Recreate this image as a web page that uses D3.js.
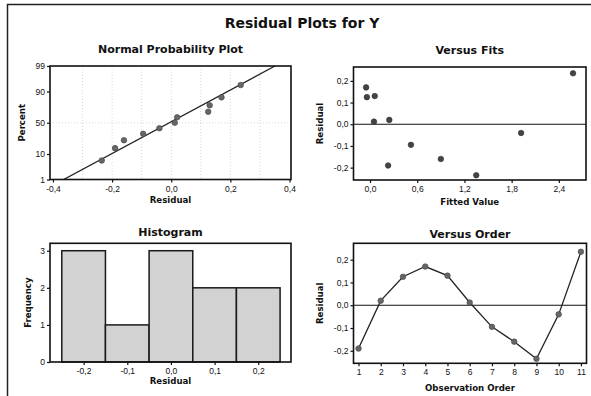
<!DOCTYPE html>
<html lang="en">
<head>
<meta charset="UTF-8">
<title>Residual Plots for Y</title>
<script src="https://d3js.org/d3.v7.min.js"></script>
<style>
    body { margin: 0; background: #fff; }
    svg { display: block; font-family: "DejaVu Sans", sans-serif; }
    .tick text { font-size: 8.5px; fill: #111; }
    .tick line, .domain { stroke: #111; }
    .title { font-weight: bold; font-size: 11px; text-anchor: middle; fill: #111; }
    .label { font-weight: bold; font-size: 8.6px; text-anchor: middle; fill: #111; }
</style>
</head>
<body>
<svg width="591" height="396"></svg>
<script>
// residuals by observation order, and their fitted values
const observation = [1, 2, 3, 4, 5, 6, 7, 8, 9, 10, 11];
const residuals = [-0.19, 0.02, 0.125, 0.17, 0.13, 0.012, -0.095, -0.16, -0.235, -0.04, 0.235];
const fitted = [0.23, 0.245, -0.04, -0.05, 0.06, 0.05, 0.52, 0.90, 1.35, 1.92, 2.58];

// normal probability plot
const nppPercent = [6.1, 14.9, 23.7, 32.5, 41.2, 50, 58.8, 67.5, 76.3, 85.1, 93.9];
const fitLineResidual = [-0.364, 0.351];
const fitLinePercent = [1, 99];
const percentTicks = [1, 10, 50, 90, 99];

// histogram
const binCenters = [-0.2, -0.1, 0.0, 0.1, 0.2];
const binFreq = [3, 1, 3, 2, 2];
const binWidth = 0.1;

const fmt = d3.formatLocale({decimal: ",", thousands: ".", grouping: [3], currency: ["", ""], minus: "-"}).format(".1f");

// inverse normal cdf (Acklam) for the probability axis
function probit(p) {
    const a = [-39.69683028665376, 220.9460984245205, -275.9285104469687, 138.3577518672690, -30.66479806614716, 2.506628277459239];
    const b = [-54.47609879822406, 161.5858368580409, -155.6989798598866, 66.80131188771972, -13.28068155288572];
    const c = [-0.007784894002430293, -0.3223964580411365, -2.400758277161838, -2.549732539343734, 4.374664141464968, 2.938163982698783];
    const d = [0.007784695709041462, 0.3224671290700398, 2.445134137142996, 3.754408661907416];
    const pl = 0.02425;
    let q, r;
    if (p < pl) {
        q = Math.sqrt(-2 * Math.log(p));
        return (((((c[0]*q+c[1])*q+c[2])*q+c[3])*q+c[4])*q+c[5]) / ((((d[0]*q+d[1])*q+d[2])*q+d[3])*q+1);
    } else if (p <= 1 - pl) {
        q = p - 0.5; r = q * q;
        return (((((a[0]*r+a[1])*r+a[2])*r+a[3])*r+a[4])*r+a[5])*q / (((((b[0]*r+b[1])*r+b[2])*r+b[3])*r+b[4])*r+1);
    }
    q = Math.sqrt(-2 * Math.log(1 - p));
    return -(((((c[0]*q+c[1])*q+c[2])*q+c[3])*q+c[4])*q+c[5]) / ((((d[0]*q+d[1])*q+d[2])*q+d[3])*q+1);
}

const svg = d3.select("svg");

// scanned page frame
svg.append("path")
    .attr("d", "M7.5,396V4.5H591")
    .attr("fill", "none").attr("stroke", "#222").attr("stroke-width", 1.5);

svg.append("text")
    .attr("x", 302).attr("y", 28)
    .attr("text-anchor", "middle")
    .style("font-weight", "bold").style("font-size", "14px").style("fill", "#111")
    .text("Residual Plots for Y");

function panel(box, title, titleY, xlab, xlabY, ylab, ylabX, id) {
    const g = svg.append("g");
    const cx = (box.l + box.r) / 2, cy = (box.t + box.b) / 2;
    g.append("text").attr("class", "title").attr("x", cx).attr("y", titleY).text(title);
    g.append("text").attr("class", "label").attr("x", cx).attr("y", xlabY).text(xlab);
    g.append("text").attr("class", "label")
        .attr("transform", `translate(${ylabX},${cy}) rotate(-90)`).text(ylab);
    svg.append("clipPath").attr("id", id)
        .append("rect").attr("x", box.l).attr("y", box.t)
        .attr("width", box.r - box.l).attr("height", box.b - box.t);
    return g;
}

function frame(g, box) {
    g.append("rect")
        .attr("x", box.l).attr("y", box.t)
        .attr("width", box.r - box.l).attr("height", box.b - box.t)
        .attr("fill", "none").attr("stroke", "#111").attr("stroke-width", 1.6);
}

function axes(g, box, x, y, xTicks, yTicks, xf, yf) {
    const ax = g.append("g").attr("transform", `translate(0,${box.b})`)
        .call(d3.axisBottom(x).tickValues(xTicks).tickFormat(xf).tickSize(3).tickPadding(3));
    const ay = g.append("g").attr("transform", `translate(${box.l},0)`)
        .call(d3.axisLeft(y).tickValues(yTicks).tickFormat(yf).tickSize(3).tickPadding(2));
    [ax, ay].forEach(a => { a.select(".domain").remove(); a.selectAll(".tick line").attr("stroke-width", 1.2); });
}

// ---- Normal Probability Plot ----
{
    const box = {l: 50, r: 291, t: 66, b: 179.5};
    const g = panel(box, "Normal Probability Plot", 52.5, "Residual", 203, "Percent", 25, "c1");
    const x = d3.scaleLinear().domain([-0.41, 0.405]).range([box.l, box.r]);
    const y = d3.scaleLinear().domain([probit(0.01), probit(0.99)]).range([box.b, box.t]);
    const yp = p => y(probit(p / 100));

    g.selectAll(".vgrid").data([-0.3, -0.2, -0.1, 0, 0.1, 0.2, 0.3]).join("line")
        .attr("x1", d => x(d)).attr("x2", d => x(d)).attr("y1", box.t).attr("y2", box.b)
        .attr("stroke", "#d8d8d8").attr("stroke-dasharray", "1,2");
    g.selectAll(".hgrid").data([50]).join("line")
        .attr("x1", box.l).attr("x2", box.r).attr("y1", d => yp(d)).attr("y2", d => yp(d))
        .attr("stroke", "#d8d8d8").attr("stroke-dasharray", "1,2");

    const sorted = d3.sort(residuals);
    g.append("path")
        .datum(d3.zip(fitLineResidual, fitLinePercent))
        .attr("clip-path", "url(#c1)")
        .attr("d", d3.line().x(d => x(d[0])).y(d => yp(d[1])))
        .attr("stroke", "#222").attr("stroke-width", 1.3).attr("fill", "none");
    g.selectAll("circle").data(d3.zip(sorted, nppPercent)).join("circle")
        .attr("cx", d => x(d[0])).attr("cy", d => yp(d[1])).attr("r", 2.8)
        .attr("fill", "#666").attr("stroke", "#444").attr("stroke-width", 0.6);

    axes(g, box, x, y, [-0.4, -0.2, 0, 0.2, 0.4], percentTicks.map(p => probit(p / 100)),
        fmt, (d, i) => percentTicks[i]);
    frame(g, box);
}

// ---- Versus Fits ----
{
    const box = {l: 353.5, r: 586, t: 67, b: 180};
    const g = panel(box, "Versus Fits", 53.5, "Fitted Value", 205, "Residual", 322.5, "c2");
    const x = d3.scaleLinear().domain([-0.21, 2.745]).range([box.l, box.r]);
    const y = d3.scaleLinear().domain([-0.257, 0.264]).range([box.b, box.t]);

    g.append("line").attr("x1", box.l).attr("x2", box.r).attr("y1", y(0)).attr("y2", y(0))
        .attr("stroke", "#111").attr("stroke-width", 1.2);
    g.selectAll("circle").data(d3.zip(fitted, residuals)).join("circle")
        .attr("cx", d => x(d[0])).attr("cy", d => y(d[1])).attr("r", 2.8)
        .attr("fill", "#444").attr("stroke", "#333").attr("stroke-width", 0.6);

    axes(g, box, x, y, [0, 0.6, 1.2, 1.8, 2.4], [-0.2, -0.1, 0, 0.1, 0.2], fmt, fmt);
    frame(g, box);
}

// ---- Histogram ----
{
    const box = {l: 50, r: 291, t: 243.3, b: 362};
    const g = panel(box, "Histogram", 236, "Residual", 384, "Frequency", 30.5, "c3");
    const x = d3.scaleLinear().domain([-0.277, 0.275]).range([box.l, box.r]);
    const y = d3.scaleLinear().domain([0, 3.2]).range([box.b, box.t]);

    g.selectAll(".bar").data(d3.zip(binCenters, binFreq)).join("rect")
        .attr("x", d => x(d[0] - binWidth / 2))
        .attr("width", d => x(d[0] + binWidth / 2) - x(d[0] - binWidth / 2))
        .attr("y", d => y(d[1])).attr("height", d => y(0) - y(d[1]))
        .attr("fill", "#d2d2d2").attr("stroke", "#1a1a1a").attr("stroke-width", 1.5);

    axes(g, box, x, y, binCenters, [0, 1, 2, 3], fmt, d3.format("d"));
    frame(g, box);
}

// ---- Versus Order ----
{
    const box = {l: 353.5, r: 586.5, t: 243.3, b: 363.3};
    const g = panel(box, "Versus Order", 237.5, "Observation Order", 390.5, "Residual", 322.5, "c4");
    const x = d3.scaleLinear().domain([0.775, 11.25]).range([box.l, box.r]);
    const y = d3.scaleLinear().domain([-0.255, 0.272]).range([box.b, box.t]);

    g.append("line").attr("x1", box.l).attr("x2", box.r).attr("y1", y(0)).attr("y2", y(0))
        .attr("stroke", "#111").attr("stroke-width", 1.2);
    const pts = d3.zip(observation, residuals);
    g.append("path").datum(pts)
        .attr("d", d3.line().x(d => x(d[0])).y(d => y(d[1])))
        .attr("fill", "none").attr("stroke", "#222").attr("stroke-width", 1.3);
    g.selectAll("circle").data(pts).join("circle")
        .attr("cx", d => x(d[0])).attr("cy", d => y(d[1])).attr("r", 2.8)
        .attr("fill", "#666").attr("stroke", "#444").attr("stroke-width", 0.6);

    axes(g, box, x, y, observation, [-0.2, -0.1, 0, 0.1, 0.2], d3.format("d"), fmt);
    frame(g, box);
}
</script>
</body>
</html>
